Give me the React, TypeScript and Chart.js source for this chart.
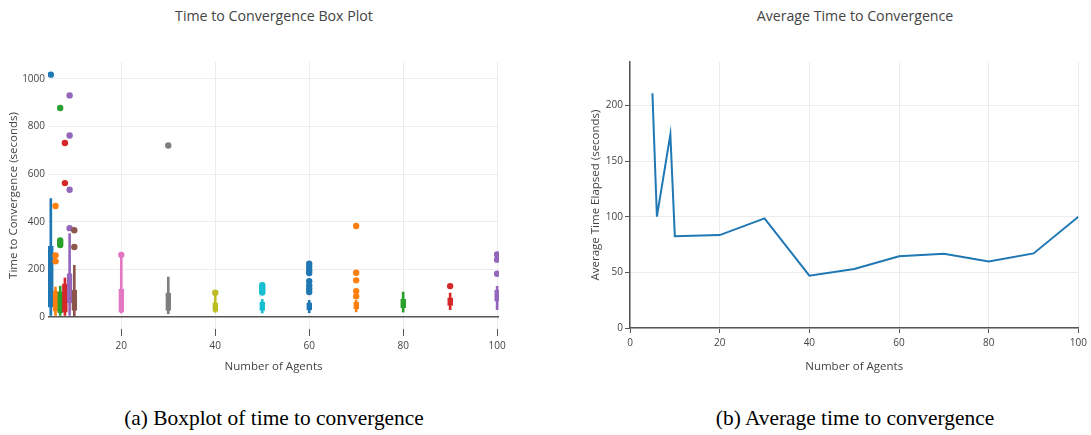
import React, { useEffect, useRef } from 'react';
import { Chart, registerables } from 'chart.js';

Chart.register(...registerables);

// ---------- Box plot data (left) ----------
const boxAgents = [5, 6, 7, 8, 9, 10, 20, 30, 40, 50, 60, 70, 80, 90, 100];
const boxColors = [
  '#1f77b4', '#ff7f0e', '#2ca02c', '#d62728', '#9467bd', '#8c564b', '#e377c2',
  '#7f7f7f', '#bcbd22', '#17becf', '#1f77b4', '#ff7f0e', '#2ca02c', '#d62728', '#9467bd',
];
const whiskerLow = [7, 7, 7, 7, 7, 6, 17, 14, 20, 17, 18, 22, 21, 31, 31];
const boxQ1 = [42, 25, 19, 21, 59, 28, 21, 28, 24, 28, 30, 35, 39, 49, 67];
const boxQ3 = [297, 108, 106, 140, 182, 112, 117, 101, 60, 63, 60, 62, 74, 81, 112];
const whiskerHigh = [497, 126, 130, 164, 350, 217, 252, 168, 97, 74, 70, 70, 105, 101, 129];
const outliers: number[][] = [
  [1017],
  [466, 259, 234],
  [877, 321, 311, 302],
  [730, 562],
  [930, 762, 534, 373],
  [364, 294],
  [261],
  [720],
  [102],
  [134, 126, 118, 110, 103],
  [224, 210, 196, 185, 150, 133, 119, 105],
  [382, 186, 154, 109, 87],
  [],
  [130],
  [263, 241, 182],
];
const leftXTicks = [20, 40, 60, 80, 100];
const leftYTicks = [0, 200, 400, 600, 800, 1000];

// ---------- Average time data (right) ----------
const avgAgents = [5, 6, 9, 10, 20, 30, 40, 50, 60, 70, 80, 90, 100];
const avgTime = [211, 100, 174, 82.5, 83.5, 98.5, 47, 53, 64.5, 66.8, 59.8, 67, 100];
const rightXTicks = [0, 20, 40, 60, 80, 100];
const rightYTicks = [0, 50, 100, 150, 200];

const FONT = "'Open Sans', sans-serif";
const TXT = '#444';

function rgba(hex: string, a: number) {
  const n = parseInt(hex.slice(1), 16);
  return `rgba(${(n >> 16) & 255},${(n >> 8) & 255},${n & 255},${a})`;
}

const plain = (v: any) => String(v);

export default function App() {
  const leftRef = useRef<HTMLCanvasElement>(null);
  const rightRef = useRef<HTMLCanvasElement>(null);

  useEffect(() => {
    document.body.style.margin = '0';

    const whiskerData = boxAgents.map((x, i) => ({ x, y: [whiskerLow[i], whiskerHigh[i]] }));
    const boxData = boxAgents.map((x, i) => ({ x, y: [boxQ1[i], boxQ3[i]] }));
    const outlierData: { x: number; y: number }[] = [];
    const outlierColors: string[] = [];
    boxAgents.forEach((x, i) =>
      outliers[i].forEach((v) => {
        outlierData.push({ x, y: v });
        outlierColors.push(boxColors[i]);
      })
    );

    const left = new Chart(leftRef.current!, {
      type: 'bar',
      data: {
        datasets: [
          {
            type: 'scatter',
            data: outlierData,
            pointBackgroundColor: outlierColors,
            pointBorderWidth: 0,
            pointRadius: 3.2,
            order: 0,
          } as any,
          {
            type: 'bar',
            data: boxData,
            backgroundColor: boxColors.map((c) => rgba(c, 0.75)),
            borderColor: boxColors,
            borderWidth: 1.5,
            borderSkipped: false,
            barThickness: 5,
            grouped: false,
            order: 1,
          } as any,
          {
            type: 'bar',
            data: whiskerData,
            backgroundColor: boxColors,
            borderWidth: 0,
            barThickness: 2,
            grouped: false,
            order: 2,
          } as any,
        ],
      },
      options: {
        animation: false,
        responsive: false,
        maintainAspectRatio: false,
        layout: { padding: { left: 0, right: 41, top: 62, bottom: 0 } },
        plugins: { legend: { display: false }, tooltip: { enabled: false } },
        scales: {
          x: {
            type: 'linear',
            min: 4.4,
            max: 100.4,
            offset: false,
            afterBuildTicks: (s: any) => {
              s.ticks = leftXTicks.map((v) => ({ value: v }));
            },
            afterFit: (s: any) => {
              s.height = 61;
            },
            grid: { offset: false, color: '#ececec', lineWidth: 1, tickColor: '#555', tickLength: 7, drawTicks: true },
            border: { display: false },
            ticks: { color: TXT, font: { family: FONT, size: 10 }, padding: 4, maxRotation: 0, autoSkip: false, callback: plain },
            title: {
              display: true,
              text: 'Number of Agents',
              color: TXT,
              font: { family: FONT, size: 11.5 },
              padding: { top: 0, bottom: 16 },
            },
          },
          y: {
            type: 'linear',
            min: -50,
            max: 1070,
            afterBuildTicks: (s: any) => {
              s.ticks = leftYTicks.map((v) => ({ value: v }));
            },
            afterFit: (s: any) => {
              s.width = 48;
            },
            grid: {
              color: (ctx: any) => (ctx.tick && ctx.tick.value === 0 ? '#555' : '#ececec'),
              lineWidth: (ctx: any) => (ctx.tick && ctx.tick.value === 0 ? 1.5 : 1),
              drawTicks: false,
            },
            border: { display: false },
            ticks: { color: TXT, font: { family: FONT, size: 10 }, padding: 3, callback: plain },
            title: {
              display: true,
              text: 'Time to Convergence (seconds)',
              color: TXT,
              font: { family: FONT, size: 11.5 },
              padding: { top: 7, bottom: 0 },
            },
          },
        },
      } as any,
    });

    const right = new Chart(rightRef.current!, {
      type: 'line',
      data: {
        datasets: [
          {
            data: avgAgents.map((x, i) => ({ x, y: avgTime[i] })),
            borderColor: '#1f77b4',
            borderWidth: 2,
            pointRadius: 0,
            fill: false,
            tension: 0,
          },
        ],
      },
      options: {
        animation: false,
        responsive: false,
        maintainAspectRatio: false,
        layout: { padding: { left: 0, right: 12, top: 62, bottom: 0 } },
        plugins: { legend: { display: false }, tooltip: { enabled: false } },
        scales: {
          x: {
            type: 'linear',
            min: 0,
            max: 100,
            afterBuildTicks: (s: any) => {
              s.ticks = rightXTicks.map((v) => ({ value: v }));
            },
            afterFit: (s: any) => {
              s.height = 62;
            },
            grid: { offset: false, color: '#ececec', tickColor: '#555', tickLength: 5 },
            border: { display: true, color: '#555', width: 1.5 },
            ticks: { color: TXT, font: { family: FONT, size: 10 }, padding: 4, maxRotation: 0, autoSkip: false, callback: plain },
            title: {
              display: true,
              text: 'Number of Agents',
              color: TXT,
              font: { family: FONT, size: 11.5 },
              padding: { top: 0, bottom: 16 },
            },
          },
          y: {
            type: 'linear',
            min: 0,
            max: 239,
            afterBuildTicks: (s: any) => {
              s.ticks = rightYTicks.map((v) => ({ value: v }));
            },
            afterFit: (s: any) => {
              s.width = 85;
            },
            grid: { color: '#ececec', tickColor: '#555', tickLength: 5 },
            border: { display: true, color: '#555', width: 1.5 },
            ticks: { color: TXT, font: { family: FONT, size: 10 }, padding: 2, callback: plain },
            title: {
              display: true,
              text: 'Average Time Elapsed (seconds)',
              color: TXT,
              font: { family: FONT, size: 11.5 },
              padding: { top: 44, bottom: 0 },
            },
          },
        },
      } as any,
    });

    return () => {
      left.destroy();
      right.destroy();
    };
  }, []);

  const titleStyle: React.CSSProperties = {
    position: 'absolute',
    top: 8,
    width: 400,
    textAlign: 'center',
    fontFamily: FONT,
    fontSize: 14.2,
    lineHeight: '16px',
    color: TXT,
    whiteSpace: 'nowrap',
  };
  const captionStyle: React.CSSProperties = {
    position: 'absolute',
    top: 406,
    width: 500,
    textAlign: 'center',
    fontFamily: "'Liberation Serif', 'Times New Roman', serif",
    fontSize: 21.4,
    lineHeight: '24px',
    color: '#000',
    whiteSpace: 'nowrap',
  };

  return (
    <div style={{ position: 'relative', width: 1091, height: 435, background: '#fff', overflow: 'hidden' }}>
      <div style={{ ...titleStyle, left: 274 - 200 }}>Time to Convergence Box Plot</div>
      <div style={{ ...titleStyle, left: 855 - 200 }}>Average Time to Convergence</div>
      <canvas
        ref={leftRef}
        width={540}
        height={390}
        style={{ position: 'absolute', left: 0, top: 0, width: 540, height: 390 }}
      />
      <canvas
        ref={rightRef}
        width={546}
        height={390}
        style={{ position: 'absolute', left: 545, top: 0, width: 546, height: 390 }}
      />
      <div style={{ ...captionStyle, left: 274 - 250 }}>(a) Boxplot of time to convergence</div>
      <div style={{ ...captionStyle, left: 855 - 250 }}>(b) Average time to convergence</div>
    </div>
  );
}
